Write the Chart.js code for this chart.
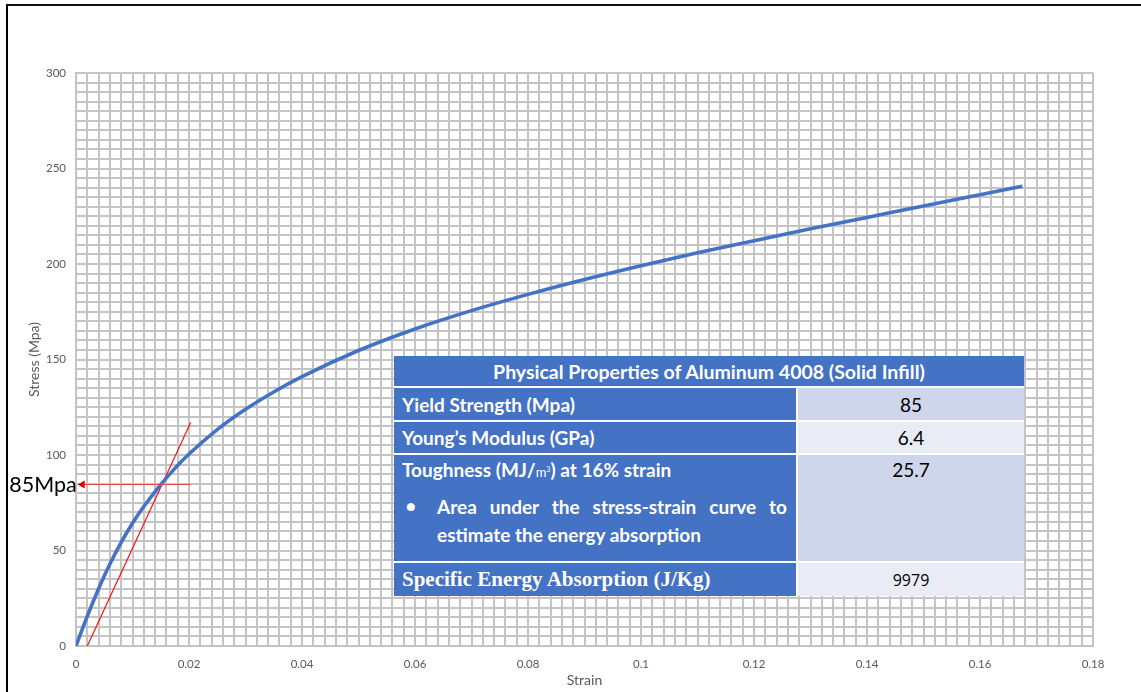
<!DOCTYPE html>
<html>
<head>
<meta charset="utf-8">
<title>Stress-Strain Curve</title>
<script src="https://cdn.jsdelivr.net/npm/chart.js@4.4.1/dist/chart.umd.min.js"></script>
<style>
  html, body { margin: 0; padding: 0; background: #fff; }
  #wrap { position: relative; width: 1141px; height: 692px; overflow: hidden; background: #fff; }
  #chart { position: absolute; left: 0; top: 0; }
  #frame {
    position: absolute; left: 6px; top: 4px; width: 1140px; height: 686px;
    border-left: 2px solid #000; border-top: 2px solid #111; border-bottom: 1px solid #8a8a8a;
    pointer-events: none;
  }
  #props {
    position: absolute; left: 394px; top: 356px; width: 630px; height: 240px;
    display: grid; grid-template-columns: 402px 226px; grid-template-rows: 30px 32px 31px 106px 33px;
    gap: 2px; background: #fff;
    font-family: Lato, "Open Sans", sans-serif;
  }
  .head {
    grid-column: 1 / 3; background: #4472c4; color: #fff; font-weight: bold;
    font-size: 19.5px; display: flex; align-items: center; justify-content: center;
  }
  .name {
    background: #4472c4; color: #fff; font-weight: bold; font-size: 19px;
    padding-left: 8px; display: flex; align-items: center; position: relative;
  }
  .val {
    color: #000; font-size: 19px; display: flex; align-items: center; justify-content: center;
  }
  .dark { background: #cfd5ea; }
  .light { background: #e9ebf5; }
  .tall { align-items: flex-start; }
  .tall .line1 { position: absolute; left: 8px; top: 3px; }
  .unit { font-weight: normal; font-size: 13px; }
  .unit sup { font-size: 7px; }
  .bullet { position: absolute; left: 12px; top: 41px; font-size: 16px; }
  .para1 { position: absolute; left: 43px; top: 40px; width: 350px; text-align: justify; text-align-last: justify; }
  .para2 { position: absolute; left: 43px; top: 68px; }
  .serif { font-family: "Liberation Serif", "DejaVu Serif", serif; font-size: 21px; }
  .small { font-size: 16px; font-family: "Open Sans", sans-serif; }
  .topval { padding-top: 3px; }
</style>
</head>
<body>
<div id="wrap">
  <canvas id="chart" width="1141" height="692"></canvas>
  <div id="frame"></div>
  <div id="props"></div>
</div>
<script>
// Measured stress-strain curve (strain, stress in MPa)
const strain = [0, 0.002, 0.004, 0.006, 0.008, 0.010, 0.012, 0.015, 0.0175, 0.020,
                0.025, 0.030, 0.035, 0.040, 0.050, 0.060, 0.070, 0.080, 0.090, 0.100,
                0.110, 0.120, 0.130, 0.140, 0.150, 0.160, 0.1675];
const stress = [0, 15.6, 30.0, 42.9, 54.3, 64.3, 73.0, 84.5, 93.0, 100.5,
                113.3, 123.9, 133.0, 141.0, 154.7, 166.0, 175.6, 184.1, 191.9, 199.1,
                205.9, 212.2, 218.4, 224.4, 230.4, 236.3, 240.7];

// 0.2% offset line used to pick the yield point
const offsetStrain = [0.002, 0.0203];
const offsetStress = [0, 117];

// Yield marker: arrow from the intersection back to the stress axis
const yieldStrength = 85;
const yieldArrowStrain = [0.0203, 0.0003];

// Axis tick labels (major ticks only; minor grid every tenth)
const xTickLabels = ['0', '0.02', '0.04', '0.06', '0.08', '0.1', '0.12', '0.14', '0.16', '0.18'];
const yTickLabels = ['0', '50', '100', '150', '200', '250', '300'];

// Property table
const propertyHeader = 'Physical Properties of Aluminum 4008 (Solid Infill)';
const propertyNames = ['Yield Strength (Mpa)', 'Young’s Modulus (GPa)', 'Toughness', 'Specific Energy Absorption (J/Kg)'];
const propertyValues = ['85', '6.4', '25.7', '9979'];

const props = document.getElementById('props');
props.innerHTML =
  `<div class="head">${propertyHeader}</div>` +
  `<div class="name">${propertyNames[0]}</div><div class="val dark">${propertyValues[0]}</div>` +
  `<div class="name">${propertyNames[1]}</div><div class="val light">${propertyValues[1]}</div>` +
  `<div class="name tall"><span class="line1">${propertyNames[2]} (MJ/<span class="unit">m<sup>3</sup></span>) at 16% strain</span>` +
  `<span class="bullet">●</span>` +
  `<div class="para1">Area under the stress-strain curve to</div>` +
  `<div class="para2">estimate the energy absorption</div></div>` +
  `<div class="val dark tall topval">${propertyValues[2]}</div>` +
  `<div class="name serif">${propertyNames[3]}</div><div class="val light small">${propertyValues[3]}</div>`;

const curvePoints = strain.map((s, i) => ({ x: s, y: stress[i] }));
const offsetPoints = offsetStrain.map((s, i) => ({ x: s, y: offsetStress[i] }));

const yieldMarker = {
  id: 'yieldMarker',
  afterDatasetsDraw(chart) {
    const { ctx, scales: { x, y } } = chart;
    const py = Math.round(y.getPixelForValue(yieldStrength)) + 0.5;
    const x0 = x.getPixelForValue(yieldArrowStrain[0]);
    const tip = x.getPixelForValue(yieldArrowStrain[1]);
    ctx.save();
    ctx.strokeStyle = '#e34b4b';
    ctx.lineWidth = 1;
    ctx.beginPath();
    ctx.moveTo(x0, py);
    ctx.lineTo(tip + 6, py);
    ctx.stroke();
    ctx.fillStyle = '#e00000';
    ctx.beginPath();
    ctx.moveTo(tip, py);
    ctx.lineTo(tip + 7, py - 4);
    ctx.lineTo(tip + 7, py + 4);
    ctx.closePath();
    ctx.fill();
    ctx.fillStyle = '#000';
    ctx.font = '21.5px Lato, "Open Sans", sans-serif';
    ctx.textAlign = 'right';
    ctx.textBaseline = 'middle';
    ctx.fillText(yieldStrength + 'Mpa', tip - 1, py + 1);
    ctx.restore();
  }
};

const gridColor = '#c4c4c4';
const tickFont = { family: 'Lato, "Open Sans", sans-serif', size: 11.5 };
const titleFont = { family: 'Lato, "Open Sans", sans-serif', size: 14 };

new Chart(document.getElementById('chart'), {
  type: 'scatter',
  data: {
    datasets: [
      {
        label: 'Stress',
        data: curvePoints,
        showLine: true,
        borderColor: '#4472c4',
        borderWidth: 3.6,
        pointRadius: 0,
        cubicInterpolationMode: 'monotone',
        order: 1
      },
      {
        label: 'Offset',
        data: offsetPoints,
        showLine: true,
        borderColor: '#ff1010',
        borderWidth: 1.2,
        pointRadius: 0,
        order: 2
      }
    ]
  },
  options: {
    responsive: false,
    animation: false,
    layout: { padding: { top: 73, right: 48, left: 0, bottom: 0 } },
    plugins: { legend: { display: false }, tooltip: { enabled: false } },
    scales: {
      x: {
        type: 'linear',
        min: 0,
        max: 0.18,
        afterFit(scale) { scale.height = 46; },
        grid: { color: gridColor, lineWidth: 2, drawTicks: false },
        border: { color: gridColor, width: 2 },
        ticks: {
          stepSize: 0.002,
          autoSkip: false,
          maxRotation: 0,
          padding: 11,
          color: '#595959',
          font: tickFont,
          callback: (v, i) => (i % 10 === 0 ? xTickLabels[i / 10] : '')
        },
        title: {
          display: true,
          text: 'Strain',
          color: '#595959',
          font: titleFont,
          padding: { top: 0, bottom: 3 }
        }
      },
      y: {
        min: 0,
        max: 300,
        afterFit(scale) { scale.width = 76; },
        grid: { color: gridColor, lineWidth: 2, drawTicks: false },
        border: { color: gridColor, width: 2 },
        ticks: {
          stepSize: 5,
          autoSkip: false,
          padding: 10,
          color: '#595959',
          font: tickFont,
          callback: (v, i) => (i % 10 === 0 ? yTickLabels[i / 10] : '')
        },
        title: {
          display: true,
          text: 'Stress (Mpa)',
          color: '#595959',
          font: titleFont,
          padding: { top: 26, bottom: 0 }
        }
      }
    }
  },
  plugins: [yieldMarker]
});
</script>
</body>
</html>
